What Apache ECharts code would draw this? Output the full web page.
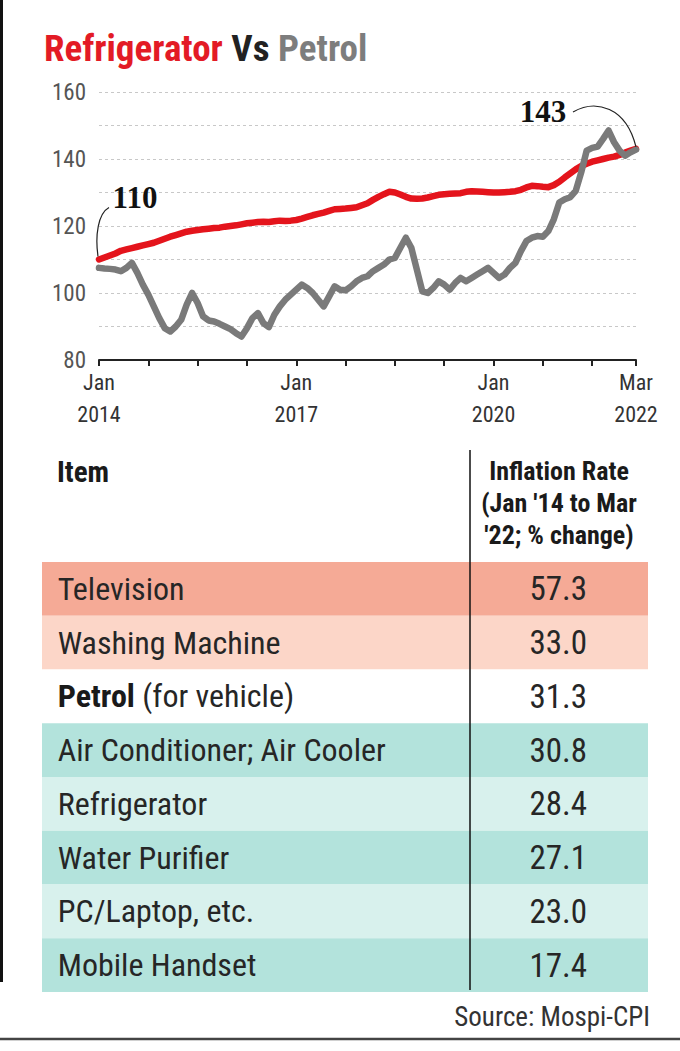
<!DOCTYPE html>
<html><head><meta charset="utf-8">
<script src="https://cdn.jsdelivr.net/npm/echarts@6/dist/echarts.min.js"></script>
<style>html,body{margin:0;padding:0;background:#fff}#c{width:680px;height:1051px}</style>
</head><body><div id="c"></div>
<script>
// ---------- DATA ----------
// Monthly index, Jan 2014 .. Mar 2022 (99 months)
const refrigerator = [
110.0,110.6,111.2,111.8,112.6,113.0,113.4,113.8,114.2,114.6,115.0,115.6,
116.2,116.8,117.3,117.8,118.3,118.6,118.8,119.0,119.2,119.4,119.5,119.8,
120.0,120.2,120.5,120.8,121.0,121.2,121.3,121.2,121.4,121.6,121.5,121.6,
121.8,122.2,122.7,123.2,123.6,124.0,124.5,125.0,125.1,125.2,125.4,125.6,
126.2,126.8,127.8,128.7,129.5,130.2,130.0,129.4,128.7,128.2,128.1,128.2,
128.5,128.9,129.3,129.5,129.6,129.7,129.8,130.2,130.4,130.3,130.2,130.1,
130.0,130.0,130.1,130.2,130.4,130.8,131.5,132.0,131.9,131.7,131.6,132.2,
133.2,134.5,135.7,136.9,137.9,138.6,139.2,139.6,140.0,140.4,140.7,141.2,
141.9,142.5,143.0];
const petrol = [
107.5,107.3,107.2,107.0,106.5,107.5,109.0,106.0,102.5,99.5,96.0,92.5,
89.5,88.5,90.0,92.0,96.5,100.0,97.0,93.0,91.8,91.5,90.8,90.0,
89.2,88.0,87.0,89.5,92.5,94.0,91.0,89.8,93.5,96.0,98.0,99.5,
101.0,102.5,101.5,100.0,98.0,96.0,99.0,102.0,101.0,100.8,102.0,103.5,
104.5,105.0,106.5,107.5,108.5,110.0,110.5,113.5,116.5,113.5,107.0,100.5,
100.0,101.5,103.5,102.5,101.0,103.0,104.5,103.5,104.5,105.5,106.5,107.5,
106.0,104.5,105.5,107.5,109.0,112.5,115.5,116.5,117.0,116.8,118.5,122.0,
127.0,128.0,128.6,130.5,136.0,142.5,143.3,143.7,146.0,148.5,145.0,142.5,
141.0,142.0,142.8];
const tickIndex = [0, 36, 72, 98];
const tickLabels = ['Jan\n2014', 'Jan\n2017', 'Jan\n2020', 'Mar\n2022'];
const yLabelValues = [80, 100, 120, 140, 160];
const startLabel = '110';
const endLabel = '143';

const items = ['Television', 'Washing Machine', 'Petrol', 'Air Conditioner; Air Cooler',
  'Refrigerator', 'Water Purifier', 'PC/Laptop, etc.', 'Mobile Handset'];
const itemNotes = ['', '', '(for vehicle)', '', '', '', '', ''];
const rates = [57.3, 33.0, 31.3, 30.8, 28.4, 27.1, 23.0, 17.4];

// month categories
const monthNames = ['Jan','Feb','Mar','Apr','May','Jun','Jul','Aug','Sep','Oct','Nov','Dec'];
const months = [];
for (let y = 2014; y <= 2022; y++) for (let m = 0; m < 12; m++) {
  if (y === 2022 && m > 2) break;
  months.push(monthNames[m] + ' ' + y);
}

// ---------- STYLE ----------
const SANS = "'Roboto Condensed','Liberation Sans Narrow','DejaVu Sans Condensed',Roboto,'Liberation Sans',sans-serif";
const SERIF = "'Liberation Serif','DejaVu Serif',serif";
const rowColors = ['#f5aa96', '#fcd6c8', '#ffffff', '#b3e3dc', '#d8f1ed', '#b3e3dc', '#d8f1ed', '#b3e3dc'];

const chart = echarts.init(document.getElementById('c'), null, {renderer: 'svg'});

const option = {
  animation: false,
  backgroundColor: '#fff',
  grid: [
    {left: 99, right: 44, top: 92, height: 268},
    {left: 42, right: 32, top: 562, height: 430}
  ],
  xAxis: [
    {
      gridIndex: 0, type: 'category', data: months, boundaryGap: false,
      axisLine: {lineStyle: {color: '#222', width: 2}},
      axisTick: {show: true, inside: false, length: 6, lineStyle: {color: '#222', width: 2},
        interval: (i) => i % 9 === 0 || i === months.length - 1},
      axisLabel: {
        interval: (i) => tickIndex.indexOf(i) >= 0,
        formatter: (v, i) => { const k = tickIndex.indexOf(i); return k >= 0 ? tickLabels[k] : ''; },
        color: '#333', fontSize: 22, fontFamily: SANS, lineHeight: 32, margin: 6
      },
      splitLine: {show: false}
    },
    {gridIndex: 1, type: 'value', min: 0, max: 1, show: false}
  ],
  yAxis: [
    {
      gridIndex: 0, type: 'value', min: 80, max: 160, interval: 10,
      axisLine: {show: false}, axisTick: {show: false},
      axisLabel: {
        formatter: (v) => yLabelValues.indexOf(v) >= 0 ? String(v) : '',
        color: '#555', fontSize: 23, fontFamily: SANS, margin: 13
      },
      splitLine: {show: true, lineStyle: {color: '#c8c8c8', width: 1, type: [3, 3]}}
    },
    {gridIndex: 1, type: 'category', data: items, inverse: true, show: false}
  ],
  series: [
    {
      name: 'Refrigerator', type: 'line', xAxisIndex: 0, yAxisIndex: 0, data: refrigerator,
      symbol: 'none', lineStyle: {color: '#e4141c', width: 6.5, cap: 'round', join: 'round'}, z: 3
    },
    {
      name: 'Petrol', type: 'line', xAxisIndex: 0, yAxisIndex: 0, data: petrol,
      symbol: 'none', lineStyle: {color: '#7a7a7a', width: 6.5, cap: 'round', join: 'round'}, z: 4
    },
    {
      name: 'Table', type: 'custom', xAxisIndex: 1, yAxisIndex: 1,
      data: rates.map((v, i) => [0.5, i]),
      encode: {x: 0, y: 1},
      renderItem: function (params, api) {
        const i = params.dataIndex;
        const cs = params.coordSys;
        const yc = api.coord([0, i])[1];
        const h = api.size([0, 1])[1];
        const nameX = api.coord([0.026, i])[0];
        const valX = api.coord([0.852, i])[0];
        const nameText = itemNotes[i] ? '{b|' + items[i] + '} ' + itemNotes[i] : items[i];
        return {
          type: 'group',
          children: [
            {type: 'rect', shape: {x: cs.x, y: yc - h / 2, width: cs.width, height: h},
              style: {fill: rowColors[i]}},
            {type: 'text', x: nameX, y: yc,
              style: {text: nameText, fill: '#262626', fontSize: 32, fontFamily: SANS,
                align: 'left', verticalAlign: 'middle',
                rich: {b: {fontWeight: 'bold', fontSize: 32, fontFamily: SANS, fill: '#1a1a1a'}}}},
            {type: 'text', x: valX, y: yc,
              style: {text: rates[i].toFixed(1), fill: '#262626', fontSize: 33, fontFamily: SANS,
                align: 'center', verticalAlign: 'middle'}}
          ]
        };
      },
      z: 2
    }
  ]
};
chart.setOption(option);

// ---------- annotations & static graphics ----------
const p0 = chart.convertToPixel({seriesIndex: 0}, [0, refrigerator[0]]);
const p1 = chart.convertToPixel({seriesIndex: 0}, [refrigerator.length - 1, refrigerator[refrigerator.length - 1]]);

chart.setOption({
  graphic: [
    // left border
    {type: 'line', shape: {x1: 1.5, y1: 0, x2: 1.5, y2: 982}, style: {stroke: '#111', lineWidth: 3}},
    // bottom rule
    {type: 'line', shape: {x1: 0, y1: 1039, x2: 680, y2: 1039}, style: {stroke: '#444', lineWidth: 2.5}},
    // title
    {type: 'text', x: 44, y: 48, style: {
      text: '{r|Refrigerator }{k|Vs }{g|Petrol}', verticalAlign: 'middle', align: 'left',
      rich: {
        r: {fill: '#e31b25', fontSize: 37, fontWeight: 'bold', fontFamily: SANS},
        k: {fill: '#222', fontSize: 37, fontWeight: 'bold', fontFamily: SANS},
        g: {fill: '#7d7d7d', fontSize: 37, fontWeight: 'bold', fontFamily: SANS}
      }}},
    // start annotation
    {type: 'text', x: p0[0] + 36, y: p0[1] - 62, style: {
      text: startLabel, fill: '#111', fontSize: 31, fontWeight: 'bold', fontFamily: SERIF,
      align: 'center', verticalAlign: 'middle'}, z: 10},
    {type: 'bezierCurve', shape: {x1: p0[0] + 10, y1: p0[1] - 52, cpx1: p0[0] - 1, cpy1: p0[1] - 46,
      cpx2: p0[0] - 4, cpy2: p0[1] - 24, x2: p0[0] - 1, y2: p0[1] - 3},
      style: {stroke: '#222', lineWidth: 1.2, fill: null}, z: 10},
    // end annotation
    {type: 'text', x: p1[0] - 93, y: p1[1] - 37, style: {
      text: endLabel, fill: '#111', fontSize: 31, fontWeight: 'bold', fontFamily: SERIF,
      align: 'center', verticalAlign: 'middle'}, z: 10},
    {type: 'bezierCurve', shape: {x1: p1[0] - 63, y1: p1[1] - 37, cpx1: p1[0] - 40, cpy1: p1[1] - 50,
      cpx2: p1[0] - 10, cpy2: p1[1] - 42, x2: p1[0], y2: p1[1] - 2},
      style: {stroke: '#222', lineWidth: 1.2, fill: null}, z: 10},
    // table header
    {type: 'text', x: 57, y: 472, style: {text: 'Item', fill: '#1a1a1a', fontSize: 29, fontWeight: 'bold',
      fontFamily: SANS, align: 'left', verticalAlign: 'middle'}},
    {type: 'text', x: 559, y: 503, style: {text: "Inflation Rate\n(Jan '14 to Mar\n'22; % change)",
      fill: '#1a1a1a', fontSize: 26, fontWeight: 'bold', fontFamily: SANS, lineHeight: 32,
      align: 'center', verticalAlign: 'middle'}},
    // divider
    {type: 'line', shape: {x1: 470, y1: 450, x2: 470, y2: 990}, style: {stroke: '#111', lineWidth: 1.5}, z: 20},
    // source
    {type: 'text', x: 650, y: 1017, style: {text: 'Source: Mospi-CPI', fill: '#333', fontSize: 27,
      fontFamily: SANS, align: 'right', verticalAlign: 'middle'}}
  ]
});
</script>
</body></html>
